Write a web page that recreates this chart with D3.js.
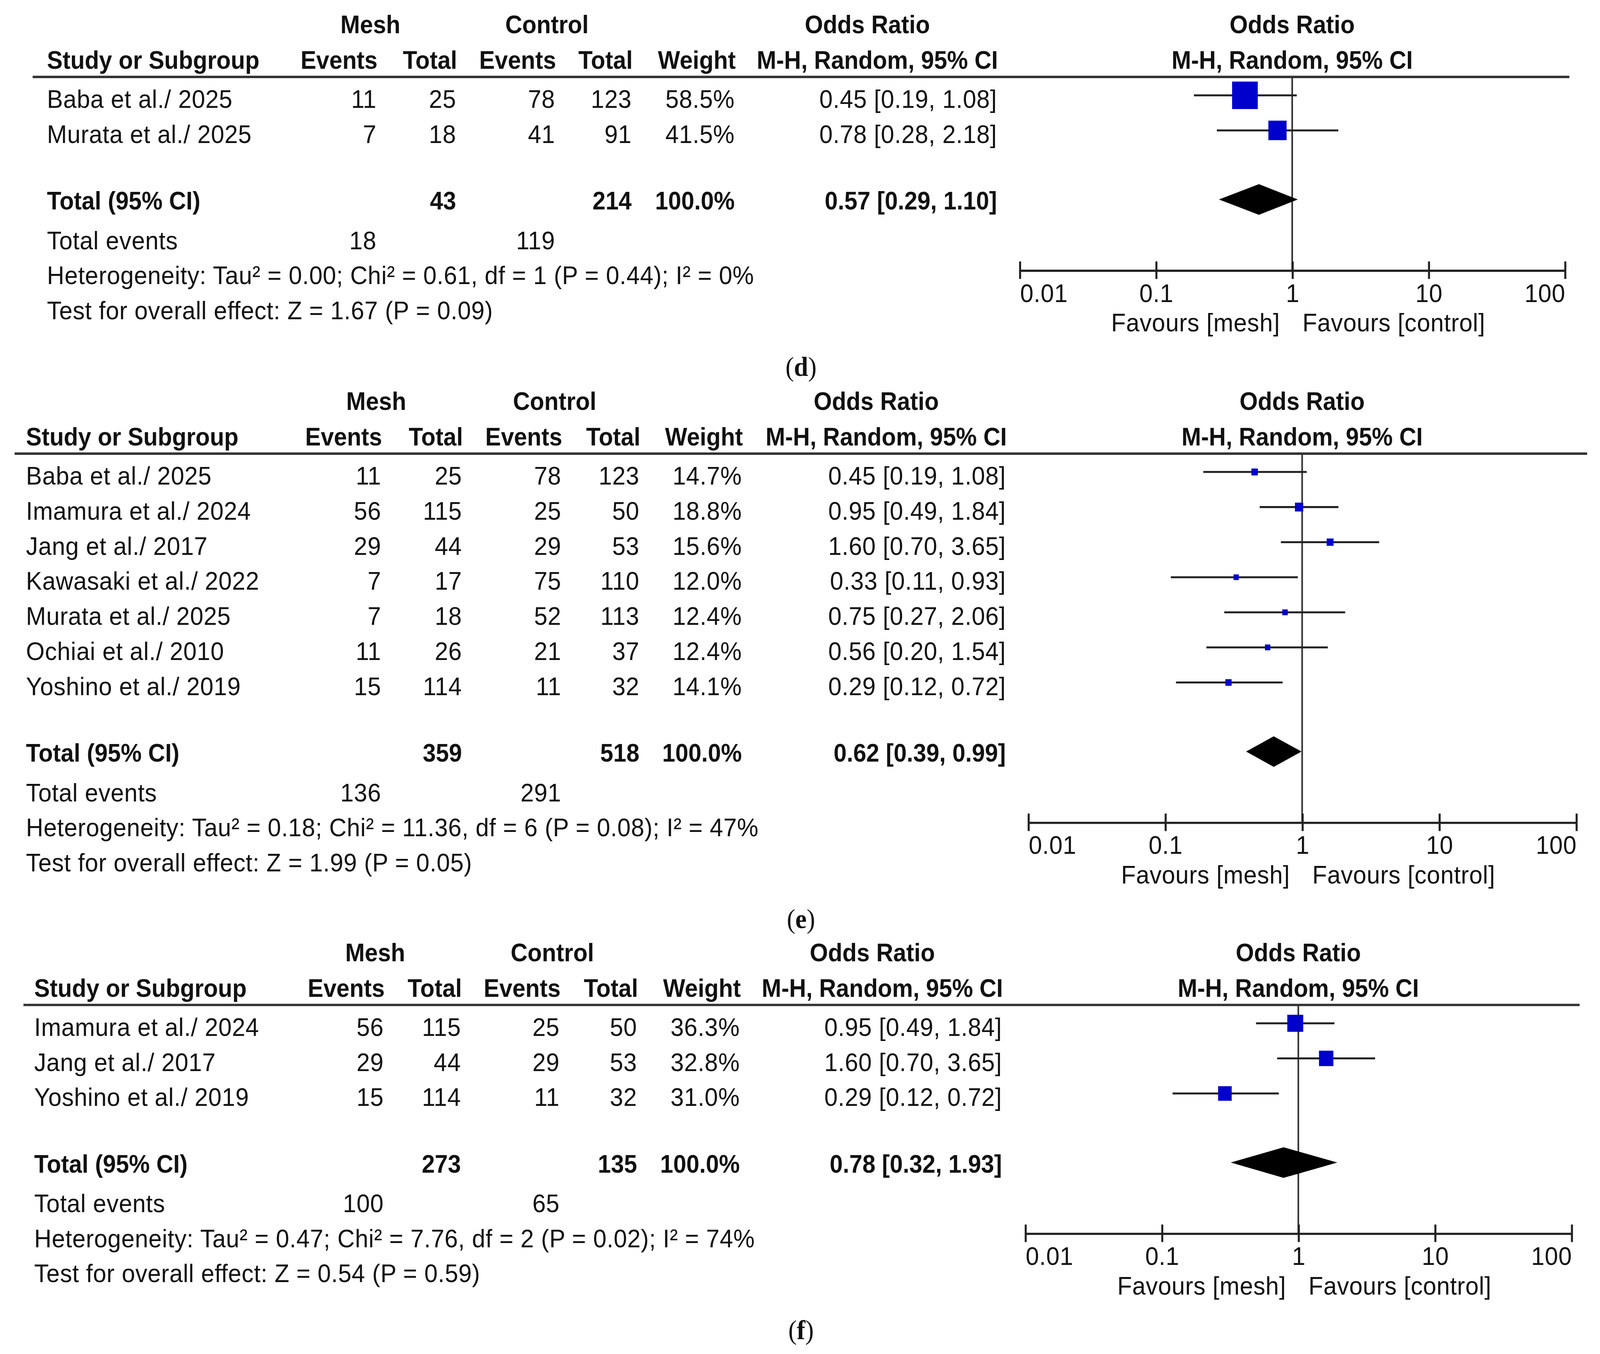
<!DOCTYPE html>
<html>
<head>
<meta charset="utf-8">
<script src="https://cdn.jsdelivr.net/npm/d3@7"></script>
<style>
  html, body { margin: 0; padding: 0; background: #fff; overflow: hidden; }
  svg { display: block; }
  text { font-family: "Liberation Sans", Arial, sans-serif; fill: #111; }
</style>
</head>
<body>
<svg id="chart" viewBox="0 0 1568 1238.75" preserveAspectRatio="none"></svg>
<script>
// study rows: name, mesh events, mesh total, control events, control total, weight %, OR, lower, upper
const rowsD = [
  ["Baba et al./ 2025", 11, 25, 78, 123, 58.5, 0.45, 0.19, 1.08],
  ["Murata et al./ 2025", 7, 18, 41, 91, 41.5, 0.78, 0.28, 2.18]
];
// totals: mesh total, control total, OR, lower, upper, mesh events, control events
const totalD = [43, 214, 0.57, 0.29, 1.10, 18, 119];
const statsD = [
  "Heterogeneity: Tau² = 0.00; Chi² = 0.61, df = 1 (P = 0.44); I² = 0%",
  "Test for overall effect: Z = 1.67 (P = 0.09)"
];

const rowsE = [
  ["Baba et al./ 2025", 11, 25, 78, 123, 14.7, 0.45, 0.19, 1.08],
  ["Imamura et al./ 2024", 56, 115, 25, 50, 18.8, 0.95, 0.49, 1.84],
  ["Jang et al./ 2017", 29, 44, 29, 53, 15.6, 1.60, 0.70, 3.65],
  ["Kawasaki et al./ 2022", 7, 17, 75, 110, 12.0, 0.33, 0.11, 0.93],
  ["Murata et al./ 2025", 7, 18, 52, 113, 12.4, 0.75, 0.27, 2.06],
  ["Ochiai et al./ 2010", 11, 26, 21, 37, 12.4, 0.56, 0.20, 1.54],
  ["Yoshino et al./ 2019", 15, 114, 11, 32, 14.1, 0.29, 0.12, 0.72]
];
const totalE = [359, 518, 0.62, 0.39, 0.99, 136, 291];
const statsE = [
  "Heterogeneity: Tau² = 0.18; Chi² = 11.36, df = 6 (P = 0.08); I² = 47%",
  "Test for overall effect: Z = 1.99 (P = 0.05)"
];

const rowsF = [
  ["Imamura et al./ 2024", 56, 115, 25, 50, 36.3, 0.95, 0.49, 1.84],
  ["Jang et al./ 2017", 29, 44, 29, 53, 32.8, 1.60, 0.70, 3.65],
  ["Yoshino et al./ 2019", 15, 114, 11, 32, 31.0, 0.29, 0.12, 0.72]
];
const totalF = [273, 135, 0.78, 0.32, 1.93, 100, 65];
const statsF = [
  "Heterogeneity: Tau² = 0.47; Chi² = 7.76, df = 2 (P = 0.02); I² = 74%",
  "Test for overall effect: Z = 0.54 (P = 0.59)"
];

const orTicks = [0.01, 0.1, 1, 10, 100];
const groupHeads = ["Mesh", "Control", "Odds Ratio"];
const columnHeads = ["Events", "Total", "Events", "Total", "Weight", "M-H, Random, 95% CI"];
const favourLabels = ["Favours [mesh]", "Favours [control]"];

// page layout, in 1568-wide units
const panels = [
  { label: "d", rows: rowsD, total: totalD, stats: statsD, top: 30.4, textX: 46,
    rule: [32, 1538], cols: [369, 447, 544, 619, 720, 977], plot: [999.2, 1533.5] },
  { label: "e", rows: rowsE, total: totalE, stats: statsE, top: 375, textX: 25.5,
    rule: [14.3, 1555.4], cols: [373.5, 452.7, 550, 626.6, 727, 985.7], plot: [1007.6, 1544.6] },
  { label: "f", rows: rowsF, total: totalF, stats: statsF, top: 879.4, textX: 33.5,
    rule: [23, 1548], cols: [376, 451.7, 548.4, 624.3, 725, 981.9], plot: [1004.7, 1540] }
];

// fill the whole window, whatever size it is
const svg = d3.select("#chart")
  .attr("width", window.innerWidth || 4386)
  .attr("height", window.innerHeight || 3465);

const squareSize = d3.scaleLinear().domain([0, 100]).range([0, 43]);
const fmtOR = (or, lo, hi) => `${or.toFixed(2)} [${lo.toFixed(2)}, ${hi.toFixed(2)}]`;

const plain = (sel) => sel.attr("font-size", 23.5).attr("letter-spacing", 0.25);
const bold = (sel) => sel.attr("font-size", 23).attr("font-weight", "bold");

const addText = (g, x, y, s, anchor, style) => {
  return g.append("text")
    .attr("x", x).attr("y", y)
    .attr("text-anchor", anchor)
    .call(style)
    .text(s);
};

panels.forEach((p) => {
  const g = svg.append("g").attr("class", "panel-" + p.label);
  const headY = p.top + 32.5;
  const ruleY = p.top + 40;
  const rowY = (i) => p.top + 68.3 + 32.1 * i;
  const totalY = rowY(p.rows.length - 1) + 61;
  const eventsY = totalY + 36.2;
  const hetY = eventsY + 32;
  const testY = hetY + 32;
  const axisY = hetY - 12.8;

  const x = d3.scaleLog().domain([0.01, 100]).range(p.plot);
  const plotMid = x(1);

  // group headings
  addText(g, p.cols[1] - 84, p.top, groupHeads[0], "middle", bold);
  addText(g, p.cols[3] - 83, p.top, groupHeads[1], "middle", bold);
  addText(g, p.cols[5] - 127, p.top, groupHeads[2], "middle", bold);
  addText(g, plotMid, p.top, groupHeads[2], "middle", bold);

  // column headings
  addText(g, p.textX, headY, "Study or Subgroup", "start", bold);
  columnHeads.forEach((h, i) => addText(g, p.cols[i] + 1, headY, h, "end", bold));
  addText(g, plotMid, headY, columnHeads[5], "middle", bold);

  g.append("line")
    .attr("x1", p.rule[0]).attr("x2", p.rule[1])
    .attr("y1", ruleY).attr("y2", ruleY)
    .attr("stroke", "#333").attr("stroke-width", 2.2);

  // line of no effect
  g.append("line")
    .attr("x1", plotMid).attr("x2", plotMid)
    .attr("y1", ruleY).attr("y2", axisY)
    .attr("stroke", "#333").attr("stroke-width", 1.6);

  // study rows
  const rows = g.selectAll(".study").data(p.rows).enter()
    .append("g").attr("class", "study");
  rows.each(function (r, i) {
    const row = d3.select(this);
    const y = rowY(i);
    addText(row, p.textX, y, r[0], "start", plain);
    [r[1], r[2], r[3], r[4]].forEach((v, k) => addText(row, p.cols[k], y, v, "end", plain));
    addText(row, p.cols[4], y, r[5].toFixed(1) + "%", "end", plain);
    addText(row, p.cols[5], y, fmtOR(r[6], r[7], r[8]), "end", plain);

    const cy = y - 11.5;
    const s = squareSize(r[5]);
    row.append("line")
      .attr("x1", x(r[7])).attr("x2", x(r[8]))
      .attr("y1", cy).attr("y2", cy)
      .attr("stroke", "#222").attr("stroke-width", 1.8);
    row.append("rect")
      .attr("x", x(r[6]) - s / 2).attr("y", cy - s / 2)
      .attr("width", s).attr("height", s)
      .attr("fill", "#0000cc");
  });

  // pooled total
  const t = p.total;
  addText(g, p.textX, totalY, "Total (95% CI)", "start", bold);
  addText(g, p.cols[1], totalY, t[0], "end", bold);
  addText(g, p.cols[3], totalY, t[1], "end", bold);
  addText(g, p.cols[4], totalY, "100.0%", "end", bold);
  addText(g, p.cols[5], totalY, fmtOR(t[2], t[3], t[4]), "end", bold);

  const dy = totalY - 9.3;
  g.append("path")
    .attr("d", d3.line()([[x(t[3]), dy], [x(t[2]), dy - 14], [x(t[4]), dy], [x(t[2]), dy + 14]]) + "Z")
    .attr("fill", "#000");

  addText(g, p.textX, eventsY, "Total events", "start", plain);
  addText(g, p.cols[0], eventsY, t[5], "end", plain);
  addText(g, p.cols[2], eventsY, t[6], "end", plain);
  addText(g, p.textX, hetY, p.stats[0], "start", plain);
  addText(g, p.textX, testY, p.stats[1], "start", plain);

  // odds ratio axis
  const axisG = g.append("g")
    .attr("transform", `translate(0,${axisY})`)
    .call(d3.axisBottom(x).tickValues(orTicks).tickSizeOuter(0).tickFormat((d) => String(d)));
  axisG.attr("font-size", null).attr("font-family", null);
  axisG.select(".domain").attr("stroke", "#222").attr("stroke-width", 2);
  axisG.selectAll(".tick line")
    .attr("y1", -8).attr("y2", 8)
    .attr("stroke", "#222").attr("stroke-width", 2);
  axisG.selectAll(".tick text")
    .attr("y", 29).attr("dy", null)
    .attr("fill", "#111")
    .call(plain)
    .attr("text-anchor", (d, i) => i === 0 ? "start" : (i === orTicks.length - 1 ? "end" : "middle"));

  addText(g, plotMid - 12, axisY + 56, favourLabels[0], "end", plain);
  addText(g, plotMid + 10, axisY + 56, favourLabels[1], "start", plain);

  // panel letter
  const lab = g.append("text")
    .attr("x", 785).attr("y", testY + 52)
    .attr("text-anchor", "middle")
    .attr("font-size", 25)
    .style("font-family", "'Liberation Serif', 'Times New Roman', serif");
  lab.append("tspan").text("(");
  lab.append("tspan").attr("font-weight", "bold").text(p.label);
  lab.append("tspan").text(")");
});
</script>
</body>
</html>
